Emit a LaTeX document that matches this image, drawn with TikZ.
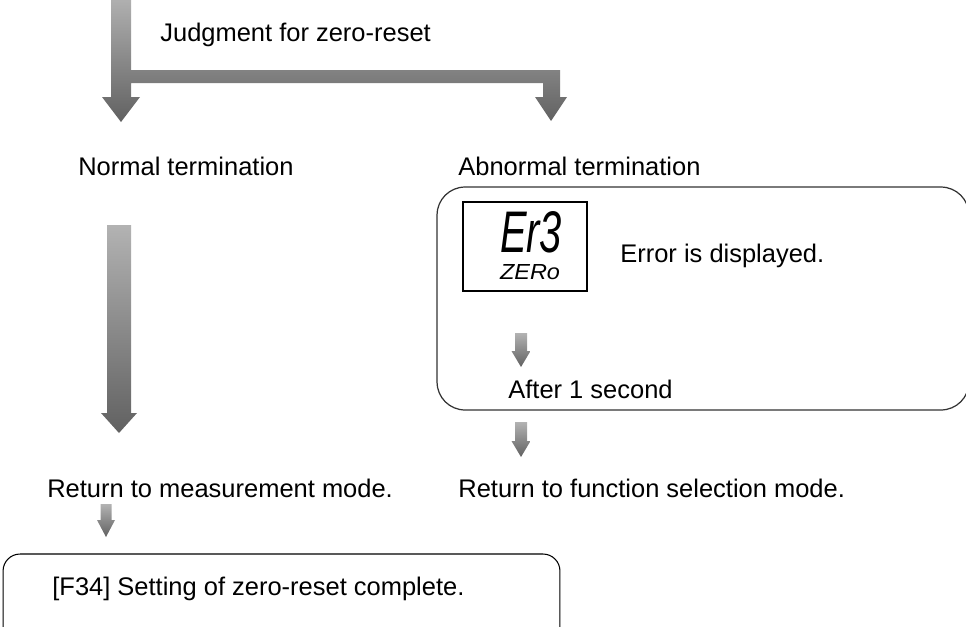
\documentclass[tikz,border=0pt]{standalone}
\usepackage{fontspec}
\setmainfont{Liberation Sans}
\usepackage{graphicx}
\usetikzlibrary{positioning}
\tikzset{
    flowtext/.style={
        font=\fontsize{14.5}{17}\selectfont,
        anchor=base west,
        inner sep=0pt
    },
    arrowshade/.style={
        top color=black!30,
        bottom color=black!62
    },
    framebox/.style={
        draw,
        inner sep=0pt
    }
}
% x, y top, y tip, half shaft, half head, head length
\newcommand{\grayarrow}[6]{%
    \shade[arrowshade] (#1-#4,#2) -- (#1+#4,#2) -- (#1+#4,#3-#6) -- (#1+#5,#3-#6)
        -- (#1,#3) -- (#1-#5,#3-#6) -- (#1-#4,#3-#6) -- cycle;
}

\begin{document}
\begin{tikzpicture}[x=0.02cm, y=-0.02cm]
\useasboundingbox (0,0) rectangle (966,626);
\clip (0,0) rectangle (966,626);

% branch
\shade[arrowshade] (111,-5) -- (131,-5) -- (131,70) -- (560,70) -- (560,97)
    -- (567,97) -- (551,121) -- (535,97) -- (543,97) -- (543,83) -- (131,83)
    -- (131,97) -- (140,97) -- (121,122) -- (102,97) -- (111,97) -- cycle;
\node[flowtext] (judge) at (160,41) {Judgment for zero-reset};
\node[flowtext] (normal) at (78,175) {Normal termination};
\node[flowtext] (abnormal) at (458,175) {Abnormal termination};

% abnormal side
\node[framebox, draw=black!80, line width=0.7pt, rounded corners=0.56cm,
    minimum width=10.64cm, minimum height=4.46cm] (errbox) at (703,298.5) {};
\node[framebox, line width=0.6pt, minimum width=2.48cm, minimum height=1.78cm]
    (lcd) at (525,246.5) {};
\node[inner sep=0pt] (lcdmain) at (531,232.5) {\resizebox{1.24cm}{0.82cm}{\itshape Er3}};
\node[inner sep=0pt] (lcdsub) at (530,272.5) {\resizebox{1.2cm}{0.3cm}{\itshape ZERo}};
\node[flowtext] (errmsg) at (620,262) {Error is displayed.};
\grayarrow{521}{333}{367}{6}{9.5}{16}
\node[flowtext] (after) at (508,398) {After 1 second};
\grayarrow{521}{422}{457}{6}{9.5}{16}
\node[flowtext] (retfunc) at (458,497) {Return to function selection mode.};

% normal side
\grayarrow{119}{225}{433}{12}{18}{20}
\node[flowtext] (retmeas) at (47,497) {Return to measurement mode.};
\grayarrow{106}{504}{537}{5.5}{9}{17}
\node[framebox, line width=0.6pt, rounded corners=0.34cm,
    minimum width=11.14cm, minimum height=2.52cm] (donebox) at (281.5,617) {};
\node[flowtext] (done) at (52,595) {[F34] Setting of zero-reset complete.};
\end{tikzpicture}
\end{document}
